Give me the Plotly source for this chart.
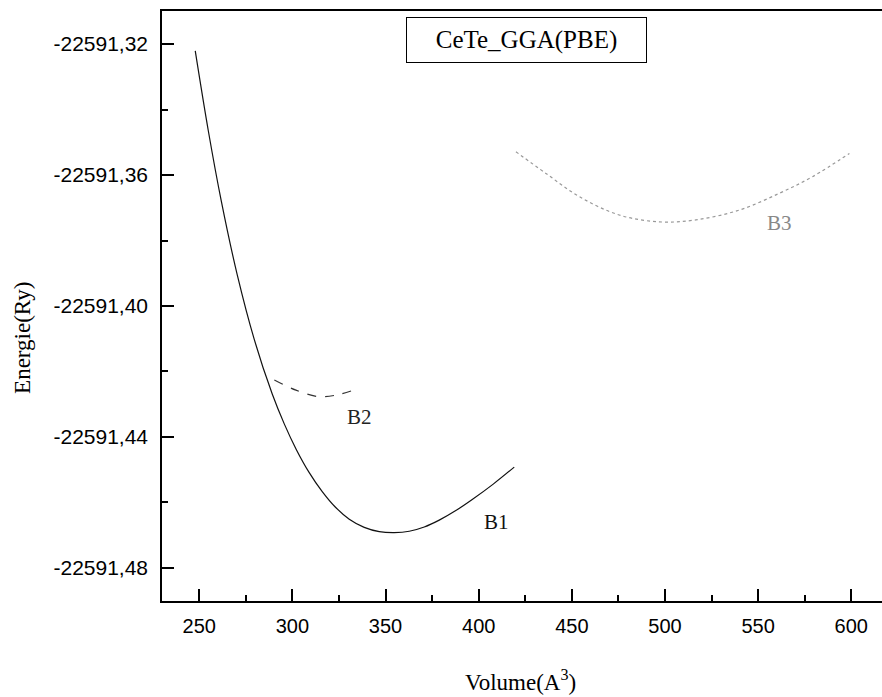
import plotly.graph_objects as go

# Energy-volume curves for the three CeTe structures (GGA-PBE)
b1_volume = [247.85, 254.83, 261.81, 270.40, 279.52, 289.18, 295.63, 302.07, 309.04, 316.02, 323.00,
             330.52, 338.57, 346.62, 354.67, 362.72, 370.77, 378.82, 387.95, 396.54, 407.81, 419.08]
b1_energy = [-22591.3221, -22591.3464, -22591.3679, -22591.3905, -22591.4102, -22591.4269, -22591.4360,
             -22591.4438, -22591.4509, -22591.4567, -22591.4614, -22591.4651, -22591.4676, -22591.4689,
             -22591.4692, -22591.4688, -22591.4675, -22591.4654, -22591.4624, -22591.4591, -22591.4544,
             -22591.4492]

b2_volume = [290.3, 301.9, 314.4, 325.1, 335.9]
b2_energy = [-22591.4226, -22591.4257, -22591.4277, -22591.4270, -22591.4251]

b3_volume = [420.0, 436.1, 454.0, 475.4, 496.9, 516.6, 539.9, 561.3, 579.2, 599.0]
b3_energy = [-22591.3529, -22591.3595, -22591.3666, -22591.3722, -22591.3743, -22591.3737,
             -22591.3707, -22591.3656, -22591.3605, -22591.3534]

# Curve labels placed next to each curve
label_text = ["B1", "B2", "B3"]
label_volume = [409.4, 335.9, 561.3]
label_energy = [-22591.4660, -22591.4339, -22591.3745]
label_color = ["#111111", "#222222", "#888888"]

x_ticks = [250, 300, 350, 400, 450, 500, 550, 600]
x_minor = [275, 325, 375, 425, 475, 525, 575]
y_ticks = [-22591.32, -22591.36, -22591.40, -22591.44, -22591.48]
y_tick_text = ["-22591,32", "-22591,36", "-22591,40", "-22591,44", "-22591,48"]
y_minor = [-22591.34, -22591.38, -22591.42, -22591.46]

serif = "Liberation Serif, Times New Roman, serif"
sans = "Liberation Sans, Arial, sans-serif"

fig = go.Figure()
fig.add_trace(go.Scatter(x=b1_volume, y=b1_energy, mode="lines", line_shape="spline",
                         line=dict(color="#111111", width=1.2, smoothing=1.0), name="B1"))
fig.add_trace(go.Scatter(x=b2_volume, y=b2_energy, mode="lines", line_shape="spline",
                         line=dict(color="#333333", width=1.2, dash="dash"), name="B2"))
fig.add_trace(go.Scatter(x=b3_volume, y=b3_energy, mode="lines", line_shape="spline",
                         line=dict(color="#999999", width=1.2, dash="dot"), name="B3"))

for t, xv, yv, c in zip(label_text, label_volume, label_energy, label_color):
    fig.add_annotation(x=xv, y=yv, text=t, showarrow=False, xanchor="center", yanchor="middle",
                       font=dict(family=serif, size=21, color=c))

# Boxed title inside the frame
fig.add_annotation(xref="paper", yref="paper", x=0.5056, y=0.9508, text="CeTe_GGA(PBE)",
                   showarrow=False, xanchor="center", yanchor="middle",
                   font=dict(family=serif, size=25, color="black"),
                   width=225, height=30, bordercolor="black", borderwidth=1, borderpad=7,
                   bgcolor="white")

# Axis titles
fig.add_annotation(xref="paper", yref="paper", x=0.498, y=-0.135, text="Volume(A<sup>3</sup>)",
                   showarrow=False, font=dict(family=serif, size=23, color="black"),
                   xanchor="center", yanchor="middle")
fig.add_annotation(xref="paper", yref="paper", x=-0.193, y=0.446, text="Energie(Ry)",
                   showarrow=False, textangle=-90, font=dict(family=serif, size=23, color="black"),
                   xanchor="center", yanchor="middle")

fig.update_layout(
    width=882, height=697,
    margin=dict(l=162, r=0, t=11, b=96),
    paper_bgcolor="white", plot_bgcolor="white",
    showlegend=False,
    xaxis=dict(range=[230, 616.5], tickvals=x_ticks, ticks="inside", ticklen=12, tickwidth=1.5,
               tickcolor="black", showline=True, linecolor="black", linewidth=1.5, mirror=True,
               showgrid=False, zeroline=False, tickfont=dict(family=sans, size=20, color="black"),
               ticklabelstandoff=6,
               minor=dict(tickvals=x_minor, ticks="inside", ticklen=6, tickwidth=1.5, tickcolor="black")),
    yaxis=dict(range=[-22591.4901, -22591.3099], tickvals=y_ticks, ticktext=y_tick_text,
               ticks="inside", ticklen=12, tickwidth=1.5, tickcolor="black",
               showline=True, linecolor="black", linewidth=1.5, mirror=False,
               showgrid=False, zeroline=False, tickfont=dict(family=sans, size=21, color="black"),
               ticklabelstandoff=8,
               minor=dict(tickvals=y_minor, ticks="inside", ticklen=6, tickwidth=1.5, tickcolor="black")),
)

fig.write_html("out.html")
